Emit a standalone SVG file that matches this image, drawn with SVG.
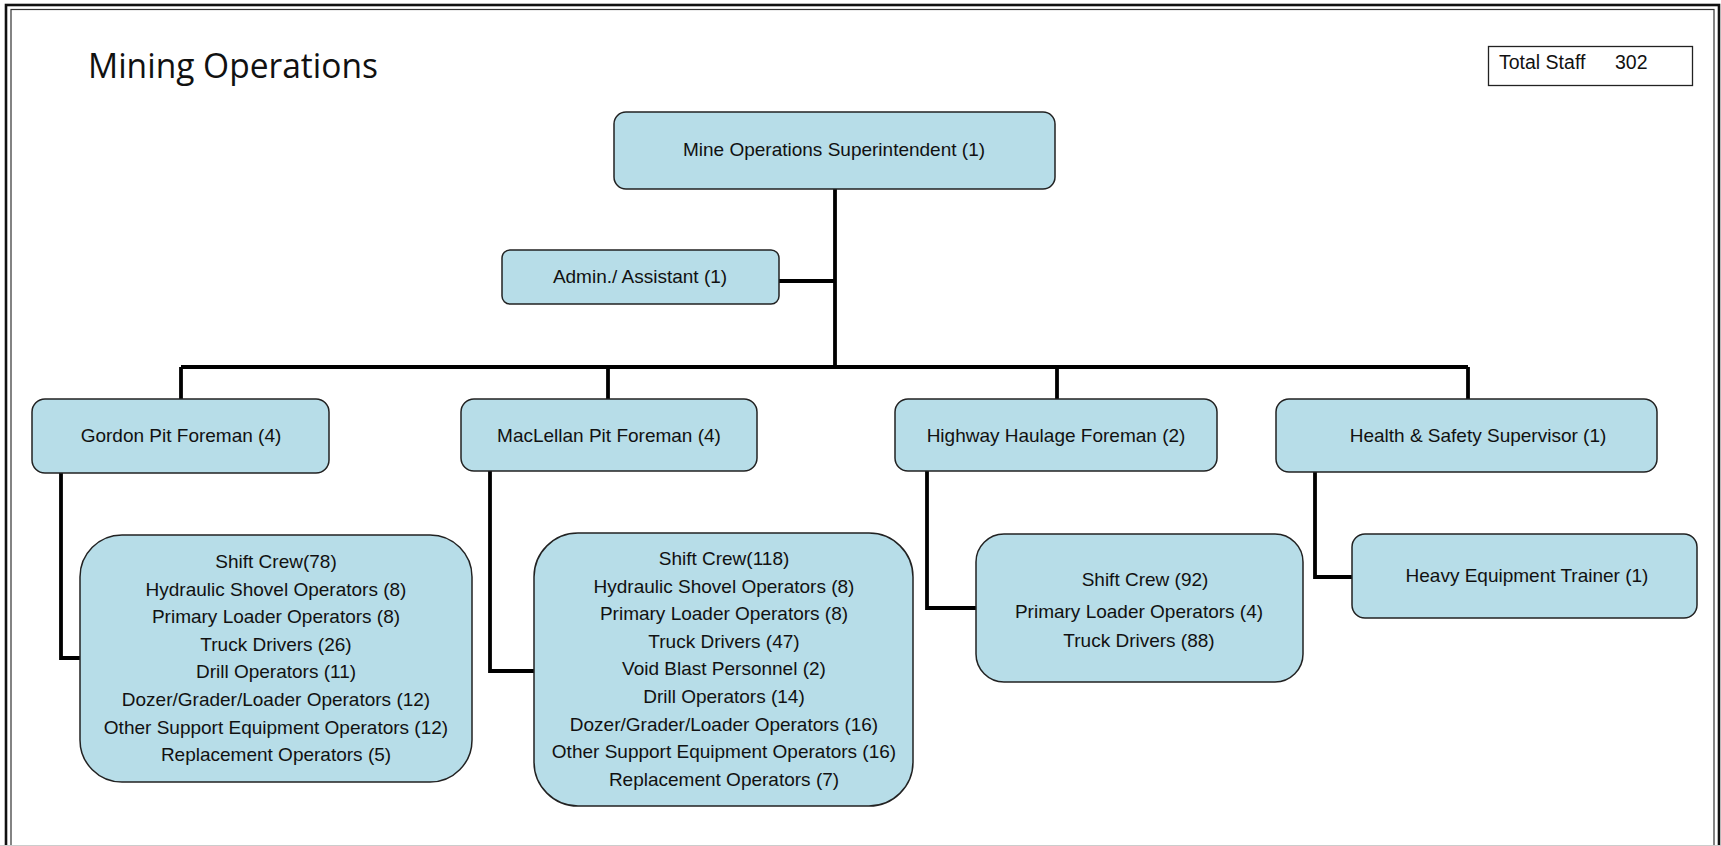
<svg xmlns="http://www.w3.org/2000/svg" width="1721" height="846" viewBox="0 0 1721 846">
  <style>
    .node { fill: #B7DDE8; stroke: #222; stroke-width: 1.5; }
    .lbl { font-family: "Liberation Sans", Arial, sans-serif; font-size: 19px; fill: #111; text-anchor: middle; }
    .link { fill: none; stroke: #000; stroke-width: 3.8; stroke-linejoin: miter; }
    .title { font-family: "Open Sans", "Noto Sans", sans-serif; font-size: 34px; fill: #111; }
  </style>

  <!-- page background and double frame -->
  <rect x="0" y="0" width="1721" height="846" fill="#fff"/>
  <rect x="6" y="5" width="1713" height="850" fill="none" stroke="#111" stroke-width="2.6"/>
  <rect x="11" y="9.5" width="1703" height="850" fill="none" stroke="#333" stroke-width="1.2"/>
  <line x1="0" y1="845.5" x2="1721" y2="845.5" stroke="#ccc" stroke-width="1"/>

  <!-- heading -->
  <text class="title" x="88" y="78" textLength="290" lengthAdjust="spacingAndGlyphs">Mining Operations</text>

  <!-- staff total -->
  <g id="total-staff">
    <rect x="1488.5" y="46.5" width="204" height="39" fill="#fff" stroke="#222" stroke-width="1.3"/>
    <text class="lbl" x="1499" y="69" style="text-anchor:start;font-size:19.5px">Total Staff</text>
    <text class="lbl" x="1615" y="69" style="text-anchor:start;font-size:19.5px">302</text>
  </g>

  <!-- connectors -->
  <g id="connectors">
    <path class="link" d="M835 189 V367"/>
    <path class="link" d="M779 281 H835"/>
    <path class="link" d="M181 367 H1468"/>
    <path class="link" d="M181 367 V399"/>
    <path class="link" d="M608 367 V399"/>
    <path class="link" d="M1057 367 V399"/>
    <path class="link" d="M1468 367 V399"/>
    <path class="link" d="M61 473 V658 H80"/>
    <path class="link" d="M490 471 V671 H534"/>
    <path class="link" d="M927 471 V608 H976"/>
    <path class="link" d="M1315 472 V577 H1352"/>
  </g>

  <g id="superintendent">
    <rect class="node" x="614" y="112" width="441" height="77" rx="12"/>
    <text class="lbl" x="834" y="156">Mine Operations Superintendent (1)</text>
  </g>

  <g id="admin">
    <rect class="node" x="502" y="250" width="277" height="54" rx="8"/>
    <text class="lbl" x="640" y="283">Admin./ Assistant (1)</text>
  </g>

  <g id="gordon-foreman">
    <rect class="node" x="32" y="399" width="297" height="74" rx="13"/>
    <text class="lbl" x="181" y="442">Gordon Pit Foreman (4)</text>
  </g>

  <g id="maclellan-foreman">
    <rect class="node" x="461" y="399" width="296" height="72" rx="13"/>
    <text class="lbl" x="609" y="442">MacLellan Pit Foreman (4)</text>
  </g>

  <g id="highway-foreman">
    <rect class="node" x="895" y="399" width="322" height="72" rx="13"/>
    <text class="lbl" x="1056" y="442">Highway Haulage Foreman (2)</text>
  </g>

  <g id="safety-supervisor">
    <rect class="node" x="1276" y="399" width="381" height="73" rx="13"/>
    <text class="lbl" x="1478" y="442">Health &amp; Safety Supervisor (1)</text>
  </g>

  <g id="gordon-crew">
    <rect class="node" x="80" y="535" width="392" height="247" rx="42"/>
    <text class="lbl" x="276" y="568">Shift Crew(78)</text>
    <text class="lbl" x="276" y="595.6">Hydraulic Shovel Operators (8)</text>
    <text class="lbl" x="276" y="623.2">Primary Loader Operators (8)</text>
    <text class="lbl" x="276" y="650.8">Truck Drivers (26)</text>
    <text class="lbl" x="276" y="678.4">Drill Operators (11)</text>
    <text class="lbl" x="276" y="706">Dozer/Grader/Loader Operators (12)</text>
    <text class="lbl" x="276" y="733.6">Other Support Equipment Operators (12)</text>
    <text class="lbl" x="276" y="761.2">Replacement Operators (5)</text>
  </g>

  <g id="maclellan-crew">
    <rect class="node" x="534" y="533" width="379" height="273" rx="44"/>
    <text class="lbl" x="724" y="565">Shift Crew(118)</text>
    <text class="lbl" x="724" y="592.6">Hydraulic Shovel Operators (8)</text>
    <text class="lbl" x="724" y="620.2">Primary Loader Operators (8)</text>
    <text class="lbl" x="724" y="647.8">Truck Drivers (47)</text>
    <text class="lbl" x="724" y="675.4">Void Blast Personnel (2)</text>
    <text class="lbl" x="724" y="703">Drill Operators (14)</text>
    <text class="lbl" x="724" y="730.6">Dozer/Grader/Loader Operators (16)</text>
    <text class="lbl" x="724" y="758.2">Other Support Equipment Operators (16)</text>
    <text class="lbl" x="724" y="785.8">Replacement Operators (7)</text>
  </g>

  <g id="highway-crew">
    <rect class="node" x="976" y="534" width="327" height="148" rx="28"/>
    <text class="lbl" x="1145" y="586">Shift Crew (92)</text>
    <text class="lbl" x="1139" y="618">Primary Loader Operators (4)</text>
    <text class="lbl" x="1139" y="647">Truck Drivers (88)</text>
  </g>

  <g id="equipment-trainer">
    <rect class="node" x="1352" y="534" width="345" height="84" rx="13"/>
    <text class="lbl" x="1527" y="582">Heavy Equipment Trainer (1)</text>
  </g>
</svg>
